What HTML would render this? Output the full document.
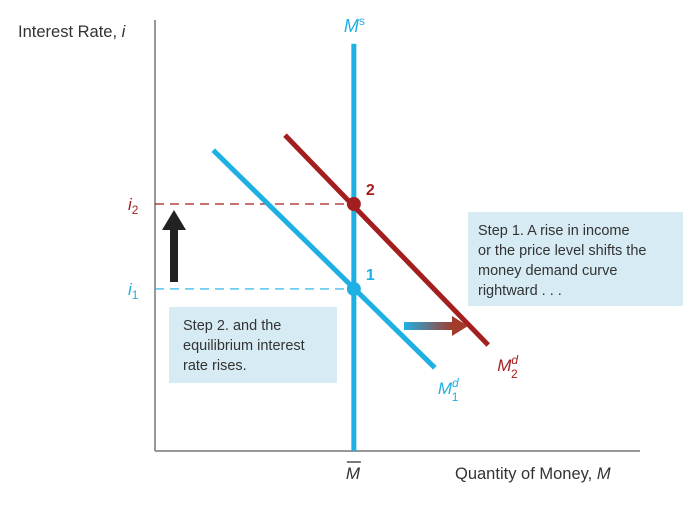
<!DOCTYPE html>
<html><head><meta charset="utf-8">
<style>
html,body{margin:0;padding:0;background:#fff;}
body{width:684px;height:500px;overflow:hidden;font-family:"Liberation Sans",sans-serif;}
</style></head>
<body>
<svg id="chart" width="684" height="500" xmlns="http://www.w3.org/2000/svg" font-family="Liberation Sans, sans-serif">
<defs>
<linearGradient id="shiftGrad" x1="0" x2="1" y1="0" y2="0">
<stop offset="0" stop-color="#1fb0e3"/><stop offset="1" stop-color="#a33b2c"/>
</linearGradient>
</defs>
<g id="axes">
<line x1="155" y1="20" x2="155" y2="451" stroke="#777" stroke-width="1.5"/>
<line x1="155" y1="451" x2="640" y2="451" stroke="#777" stroke-width="1.5"/>
<text x="18" y="37" font-size="16.5" fill="#333">Interest Rate, <tspan font-style="italic">i</tspan></text>
<text x="455" y="479" font-size="16.5" fill="#333">Quantity of Money, <tspan font-style="italic">M</tspan></text>
</g>
<rect x="468" y="212" width="215" height="94" fill="#d6ebf3"/>
<text font-size="14.5" fill="#333">
<tspan x="478" y="235">Step 1. A rise in income</tspan>
<tspan x="478" y="255">or the price level shifts the</tspan>
<tspan x="478" y="275">money demand curve</tspan>
<tspan x="478" y="295">rightward . . .</tspan>
</text>
<rect x="169" y="307" width="168" height="76" fill="#d6ebf3"/>
<text font-size="14.5" fill="#333">
<tspan x="183" y="330">Step 2. and the</tspan>
<tspan x="183" y="350">equilibrium interest</tspan>
<tspan x="183" y="370">rate rises.</tspan>
</text>
<g id="marks"></g>
<g>
<rect x="170" y="228" width="8" height="54" fill="#222"/>
<polygon points="162,230 174,210 186,230" fill="#222"/>
</g>
<g>
<rect x="404" y="322" width="49" height="8" fill="url(#shiftGrad)"/>
<polygon points="452,316 468,326 452,336" fill="#a33b2c"/>
</g>
</svg>
<script>
// data (units: 0-100 on both axes)
const moneySupply = [41];
const demand1 = [[12, 69.8], [57.7, 19.3]];
const demand2 = [[26.8, 73.3], [68.7, 24.6]];
const rateLevels = [37.6, 57.3];
const rateLabels = ["1", "2"];
const supplyTop = [94.5];

const xS = v => 155 + v * 4.85;
const yS = v => 451 - v * 4.31;
const NS = "http://www.w3.org/2000/svg";
const g = document.getElementById('marks');
function mk(tag, attrs) {
  const e = document.createElementNS(NS, tag);
  for (const k in attrs) e.setAttribute(k, attrs[k]);
  g.appendChild(e);
  return e;
}
const blue = "#1fb0e3", red = "#a31f1f";
const colors = [blue, red];

rateLevels.forEach((r, i) => {
  const l = mk('line', {x1: 155, x2: xS(moneySupply[0]), y1: yS(r), y2: yS(r), stroke: colors[i], 'stroke-width': 1.2, 'stroke-dasharray': '9,6'});
  
  
  const t = mk('text', {x: 128, y: yS(r) + 6, 'font-size': 17, 'font-style': 'italic', fill: colors[i]});
  t.innerHTML = 'i<tspan font-size="12" dy="4" font-style="normal">' + (i + 1) + '</tspan>';
  
  
});

const ms = mk('line', {x1: xS(moneySupply[0]), x2: xS(moneySupply[0]), y1: yS(supplyTop[0]), y2: yS(0), stroke: blue, 'stroke-width': 5});


const msl = mk('text', {x: xS(moneySupply[0]) - 10, y: 32, 'font-size': 18, 'font-style': 'italic', fill: blue});
msl.innerHTML = 'M<tspan font-size="12" dy="-7" font-style="normal">s</tspan>';


const mb = mk('text', {x: xS(moneySupply[0]) - 8, y: 479, 'font-size': 17, 'font-style': 'italic', fill: '#333'});
mb.textContent = 'M';


const mbb = mk('line', {x1: xS(moneySupply[0]) - 7, x2: xS(moneySupply[0]) + 7, y1: 462, y2: 462, stroke: '#333', 'stroke-width': 1.3});



[demand1, demand2].forEach((d, i) => {
  const l = mk('line', {x1: xS(d[0][0]), y1: yS(d[0][1]), x2: xS(d[1][0]), y2: yS(d[1][1]), stroke: colors[i], 'stroke-width': 5});
  
  
  const t = mk('text', {x: xS(d[1][0]) + (i ? 9 : 3), y: yS(d[1][1]) + 26, 'font-size': 17, 'font-style': 'italic', fill: colors[i]});
  t.innerHTML = 'M<tspan font-size="12" dy="-7">d</tspan><tspan font-size="12" font-style="normal" dx="-7" dy="14">' + (i + 1) + '</tspan>';
  
  
});

rateLevels.forEach((r, i) => {
  const c = mk('circle', {cx: xS(moneySupply[0]), cy: yS(r), r: 7, fill: colors[i]});
  
  
  const t = mk('text', {x: xS(moneySupply[0]) + 12, y: yS(r) - 9, 'font-size': 16, 'font-weight': 'bold', fill: colors[i]});
  t.textContent = rateLabels[i];
  
  
});
</script>
</body></html>
